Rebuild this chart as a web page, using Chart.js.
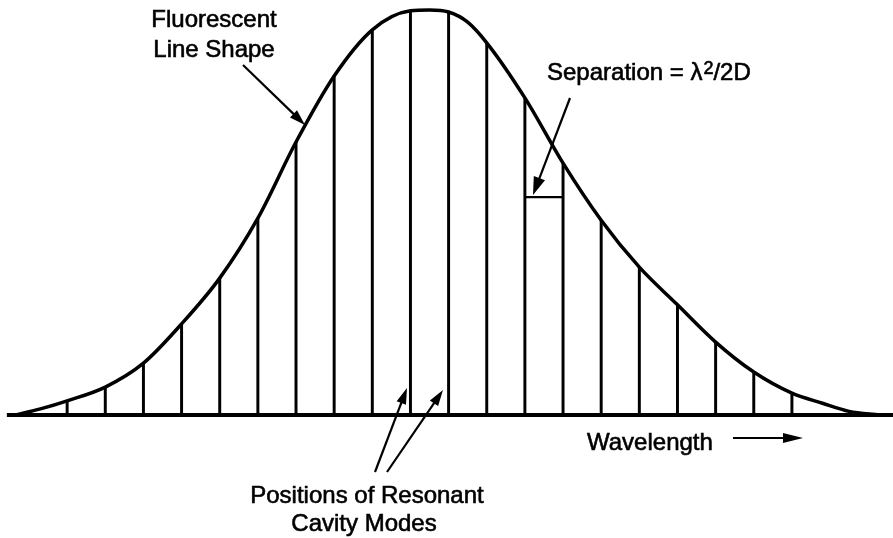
<!DOCTYPE html>
<html>
<head>
<meta charset="utf-8">
<script src="https://cdn.jsdelivr.net/npm/chart.js@4"></script>
<style>
  body { margin: 0; background: #fff; }
  #wrap { width: 893px; height: 538px; position: relative; }
</style>
</head>
<body>
<div id="wrap"><canvas id="chart_cavityModes"></canvas></div>
<script>
// wavelength in units of mode separation (0 = line centre), intensity in % of peak
var curveX = [-10.85, -10.2, -9.5, -8.5, -7.5, -6.5, -5.5, -4.5, -3.5, -2.5, -1.5, -0.5, 0, 0.5, 1, 1.5, 2.5, 3.5, 4.5, 5.5, 6.5, 7.5, 8.5, 9.5, 10.3, 11.0, 11.8];
var curveY = [0, 1.5, 3.5, 6.9, 12.8, 22.5, 33.8, 48.6, 67.4, 83.7, 95.1, 99.8, 100, 99.5, 97, 91.9, 78.3, 62.2, 48.1, 36.5, 27.2, 18.0, 10.6, 5.4, 2.9, 0.9, 0];

// resonant cavity modes
var modeX = [-9.5, -8.5, -7.5, -6.5, -5.5, -4.5, -3.5, -2.5, -1.5, -0.5, 0.5, 1.5, 2.5, 3.5, 4.5, 5.5, 6.5, 7.5, 8.5, 9.5];
var modeY = [3.5, 6.9, 12.8, 22.5, 33.8, 48.6, 67.4, 83.7, 95.1, 99.8, 99.5, 91.9, 78.3, 62.2, 48.1, 36.5, 27.2, 18.0, 10.6, 5.4];

var axisX = [-11.08, 12.3];
var sepModes = [2.5, 3.5];
var sepLevel = 53.8;

function pairs(xs, ys) {
    return xs.map(function (x, i) { return { x: x, y: ys[i] }; });
}

function arrow(ctx, x1, y1, x2, y2, len, half) {
    var a = Math.atan2(y2 - y1, x2 - x1);
    ctx.beginPath();
    ctx.moveTo(x1, y1);
    ctx.lineTo(x2 - Math.cos(a) * len * 0.8, y2 - Math.sin(a) * len * 0.8);
    ctx.stroke();
    ctx.beginPath();
    ctx.moveTo(x2, y2);
    ctx.lineTo(x2 - Math.cos(a) * len - Math.sin(a) * half, y2 - Math.sin(a) * len + Math.cos(a) * half);
    ctx.lineTo(x2 - Math.cos(a) * len + Math.sin(a) * half, y2 - Math.sin(a) * len - Math.cos(a) * half);
    ctx.closePath();
    ctx.fill();
}

// heavier text, like the printed original
function txt(ctx, s, x, y) {
    ctx.fillText(s, x, y);
    ctx.strokeText(s, x, y);
}

var labelsPlugin = {
    id: 'labelsPlugin',
    afterDraw: function (chart) {
        var ctx = chart.ctx;
        var xs = chart.scales.x, ys = chart.scales.y;
        ctx.save();
        ctx.strokeStyle = '#000';
        ctx.fillStyle = '#000';
        ctx.lineWidth = 2.2;

        // separation bar between two neighbouring modes
        ctx.beginPath();
        ctx.moveTo(xs.getPixelForValue(sepModes[0]), ys.getPixelForValue(sepLevel));
        ctx.lineTo(xs.getPixelForValue(sepModes[1]), ys.getPixelForValue(sepLevel));
        ctx.stroke();

        var font = '24px "Liberation Sans", Arial, sans-serif';
        ctx.font = font;
        ctx.lineWidth = 0.6;
        ctx.textBaseline = 'alphabetic';
        ctx.textAlign = 'center';
        txt(ctx, 'Fluorescent', 214, 27);
        txt(ctx, 'Line Shape', 214, 57);
        txt(ctx, 'Positions of Resonant', 367, 503);
        txt(ctx, 'Cavity Modes', 364, 531);

        ctx.textAlign = 'left';
        txt(ctx, 'Wavelength', 587, 450);

        var sx = 547;
        var parts = ['Separation = \u03bb', '2', '/2D'];
        txt(ctx, parts[0], sx, 80);
        sx += ctx.measureText(parts[0]).width + 1;
        ctx.font = '18px "Liberation Sans", Arial, sans-serif';
        txt(ctx, parts[1], sx, 74);
        sx += ctx.measureText(parts[1]).width;
        ctx.font = font;
        txt(ctx, parts[2], sx, 80);

        ctx.lineWidth = 2.2;
        arrow(ctx, 243, 65, 305, 125, 16, 5);
        arrow(ctx, 570, 98, 533, 195, 18, 6);
        arrow(ctx, 375, 472, 407, 388, 16, 5);
        arrow(ctx, 387, 472, 443, 390, 16, 5);
        arrow(ctx, 733, 438, 803, 438, 20, 5);
        ctx.restore();
    }
};

var chart_cavityModes = new Chart(document.getElementById('chart_cavityModes'), {
    type: 'bar',
    data: {
        datasets: [
            {
                type: 'line',
                label: 'Fluorescent line shape',
                data: pairs(curveX, curveY),
                borderColor: '#000',
                borderWidth: 3.5,
                pointRadius: 0,
                cubicInterpolationMode: 'monotone',
                fill: false,
                order: 0
            },
            {
                type: 'line',
                label: 'Axis',
                data: pairs(axisX, [0, 0]),
                borderColor: '#000',
                borderWidth: 4,
                pointRadius: 0,
                order: 1
            },
            {
                type: 'bar',
                label: 'Cavity modes',
                data: pairs(modeX, modeY),
                backgroundColor: '#000',
                barThickness: 2.3,
                order: 2
            }
        ]
    },
    options: {
        animation: false,
        responsive: true,
        maintainAspectRatio: false,
        layout: { padding: 0 },
        plugins: {
            legend: { display: false },
            tooltip: { enabled: false },
            title: { display: false }
        },
        scales: {
            x: {
                type: 'linear',
                display: false,
                offset: false,
                grid: { offset: false },
                min: -11.26,
                max: 12.15
            },
            y: {
                type: 'linear',
                display: false,
                min: -30.37,
                max: 102.47
            }
        }
    },
    plugins: [labelsPlugin, {
        id: 'whiteBg',
        beforeDraw: (chart) => {
            const ctx = chart.canvas.getContext('2d');
            ctx.save();
            ctx.globalCompositeOperation = 'destination-over';
            ctx.fillStyle = 'white';
            ctx.fillRect(0, 0, chart.canvas.width, chart.canvas.height);
            ctx.restore();
        }
    }]
});
</script>
</body>
</html>
